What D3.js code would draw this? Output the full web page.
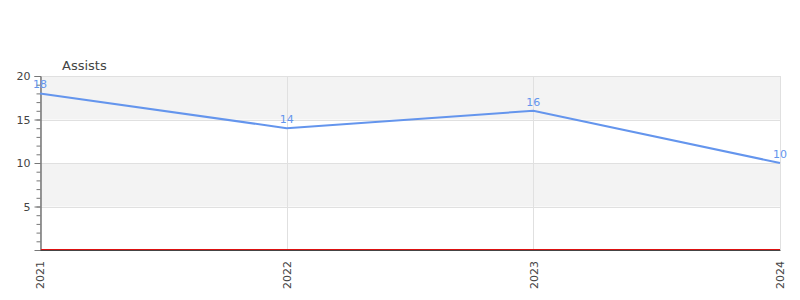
<!DOCTYPE html>
<html>
<head>
<meta charset="utf-8">
<script src="https://cdn.jsdelivr.net/npm/d3@7"></script>
<style>
  body { margin: 0; background: #fff; }
  svg { display: block; font-family: 'DejaVu Sans', sans-serif; }
</style>
</head>
<body>
<svg id="chart"></svg>
<script>
// Chart data
const years = ['2021', '2022', '2023', '2024'];
const assists = [18, 14, 16, 10];
const yTicks = [5, 10, 15, 20];
const bands = [[15, 20], [5, 10]]; // shaded horizontal stripes

const width = 800;
const height = 300;
const margin = { top: 76, right: 20, bottom: 50, left: 40 };
const LINE_COLOUR = '#6495ed';

const svg = d3.select('#chart').attr('width', width).attr('height', height);

const x = d3.scalePoint()
  .domain(years)
  .range([margin.left, width - margin.right]);

const y = d3.scaleLinear()
  .domain([0, 20])
  .range([height - margin.bottom, margin.top]);

// Grey stripes behind everything.
svg.append('g')
  .selectAll('rect')
  .data(bands)
  .join('rect')
  .attr('x', margin.left)
  .attr('width', width - margin.right - margin.left)
  .attr('y', (d) => y(d[1]))
  .attr('height', (d) => y(d[0]) - y(d[1]))
  .attr('fill', '#f3f3f3');

// Horizontal grid lines.
svg.append('g')
  .attr('stroke', '#e0e0e0')
  .selectAll('line')
  .data(yTicks)
  .join('line')
  .attr('x1', margin.left)
  .attr('x2', width - margin.right)
  .attr('y1', (d) => Math.round(y(d)) + 0.5)
  .attr('y2', (d) => Math.round(y(d)) + 0.5);

// Vertical grid lines, one per year.
svg.append('g')
  .attr('stroke', '#e0e0e0')
  .selectAll('line')
  .data(years)
  .join('line')
  .attr('x1', (d) => Math.round(x(d)) + 0.5)
  .attr('x2', (d) => Math.round(x(d)) + 0.5)
  .attr('y1', y(20))
  .attr('y2', y(0));

// Y axis with minor ticks every unit.
const yAxisG = svg.append('g').attr('transform', `translate(${margin.left + 0.5},0)`);
yAxisG.call(
  d3.axisLeft(y).tickValues(d3.range(1, 21)).tickSize(4).tickFormat(() => '')
);
yAxisG.append('g').call(d3.axisLeft(y).tickValues(yTicks).tickSize(6).tickPadding(4));
yAxisG.selectAll('.domain').attr('stroke', '#777');
yAxisG.selectAll('line').attr('stroke', '#777');
yAxisG.selectAll('text')
  .attr('fill', '#444')
  .style('font-size', '11px')
  .style('font-family', 'DejaVu Sans, sans-serif');

// Red baseline sitting right on top of the x axis.
svg.append('line')
  .attr('x1', margin.left + 1)
  .attr('x2', width - margin.right)
  .attr('y1', y(0) - 0.5)
  .attr('y2', y(0) - 0.5)
  .attr('stroke', '#dd1111')
  .attr('stroke-width', 1);

// X axis.
const xAxisG = svg.append('g').attr('transform', `translate(0,${y(0)})`);
xAxisG.call(d3.axisBottom(x).tickSize(0).tickPadding(6));
xAxisG.select('.domain').attr('stroke', '#444').attr('stroke-width', 1);
xAxisG.selectAll('text')
  .attr('fill', '#444')
  .style('font-size', '11px')
  .style('font-family', 'DejaVu Sans, sans-serif')
  .attr('text-anchor', 'end')
  .attr('dy', '0.35em')
  .attr('transform', 'rotate(-90)')
  .attr('x', -11)
  .attr('y', 0);

// Title.
svg.append('text')
  .attr('x', 62)
  .attr('y', 70)
  .attr('fill', '#444')
  .style('font-size', '13px')
  .text('Assists');

// The series line.
const points = years.map((yr, i) => ({ year: yr, value: assists[i] }));
svg.append('path')
  .datum(points)
  .attr('fill', 'none')
  .attr('stroke', LINE_COLOUR)
  .attr('stroke-width', 2)
  .attr('d', d3.line().x((d) => x(d.year)).y((d) => y(d.value)));

// Value labels above each point.
svg.append('g')
  .selectAll('text')
  .data(points)
  .join('text')
  .attr('x', (d) => x(d.year))
  .attr('y', (d) => y(d.value) - 5)
  .attr('text-anchor', 'middle')
  .attr('fill', LINE_COLOUR)
  .style('font-size', '11px')
  .text((d) => d.value);
</script>
</body>
</html>
